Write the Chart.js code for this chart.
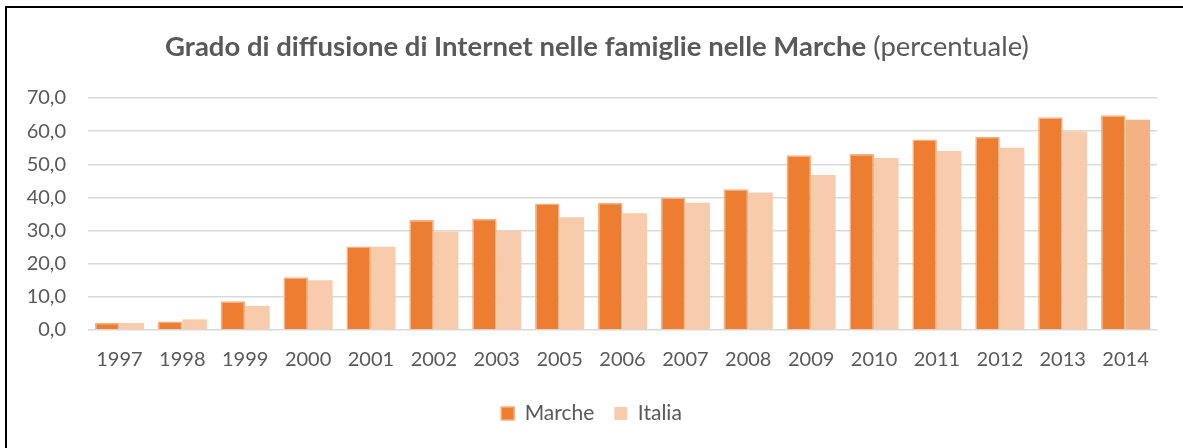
<!DOCTYPE html>
<html>
<head>
<meta charset="utf-8">
<script src="https://cdn.jsdelivr.net/npm/chart.js@4"></script>
<style>
    html, body { margin: 0; padding: 0; background: #fff; }
    #wrap { position: relative; width: 1183px; height: 448px; overflow: hidden; }
    #frame { position: absolute; left: 5px; top: 6px; width: 1200px; height: 460px; border: 2px solid #000; box-sizing: border-box; }
    canvas { position: absolute; left: 0; top: 0; }
</style>
</head>
<body>
<div id="wrap">
    <div id="frame"></div>
    <canvas id="internetChart" width="1183" height="448"></canvas>
</div>
<script>
// Grado di diffusione di Internet nelle famiglie - Marche vs Italia
const years = ['1997', '1998', '1999', '2000', '2001', '2002', '2003', '2005', '2006',
    '2007', '2008', '2009', '2010', '2011', '2012', '2013', '2014'];
const marche = [2.2, 2.6, 8.7, 15.9, 25.2, 33.2, 33.6, 38.2, 38.4, 40.0, 42.5, 52.7, 53.1, 57.5, 58.3, 64.2, 64.8];
const italia = [2.1, 3.2, 7.3, 15.0, 25.1, 29.7, 29.9, 34.0, 35.2, 38.4, 41.5, 46.8, 51.9, 54.0, 55.0, 60.0, 63.4];
const yTicks = [0, 10, 20, 30, 40, 50, 60, 70];

const titleBold = 'Grado di diffusione di Internet nelle famiglie nelle Marche';
const titleNormal = ' (percentuale)';
const fontFamily = 'Lato, "Open Sans", sans-serif';
const textColor = '#595959';

// Title with bold and normal parts
const titlePlugin = {
    id: 'mixedTitle',
    afterDraw(chart) {
        const ctx = chart.ctx;
        ctx.save();
        ctx.textBaseline = 'middle';
        ctx.fillStyle = textColor;
        ctx.font = 'bold 27.5px ' + fontFamily;
        const w1 = ctx.measureText(titleBold).width;
        ctx.font = '27.5px ' + fontFamily;
        const w2 = ctx.measureText(titleNormal).width;
        let x = 597 - (w1 + w2) / 2;
        ctx.font = 'bold 27.5px ' + fontFamily;
        ctx.fillText(titleBold, x, 47);
        ctx.font = '27.5px ' + fontFamily;
        ctx.fillText(titleNormal, x + w1, 47);
        ctx.restore();
    }
};

// Last Italia bar is drawn a bit darker in the original
const italiaColors = italia.map((v, i) => i === italia.length - 1 ? '#f4b183' : '#f8cbad');

new Chart(document.getElementById('internetChart').getContext('2d'), {
    type: 'bar',
    data: {
        labels: years,
        datasets: [{
            label: 'Marche',
            data: marche,
            backgroundColor: '#ed7d31',
            borderColor: '#f4b183',
            borderWidth: 1.5
        }, {
            label: 'Italia',
            data: italia,
            backgroundColor: italiaColors,
            borderColor: italiaColors,
            borderWidth: 0
        }]
    },
    options: {
        responsive: false,
        animation: false,
        datasets: {
            bar: {
                categoryPercentage: 0.78,
                barPercentage: 1.0
            }
        },
        layout: {
            padding: { top: 98, right: 26, bottom: 14, left: 26 }
        },
        plugins: {
            legend: {
                position: 'bottom',
                labels: {
                    boxWidth: 13,
                    boxHeight: 13,
                    padding: 20,
                    color: textColor,
                    font: { family: fontFamily, size: 21 }
                }
            },
            title: { display: false },
            tooltip: { enabled: false }
        },
        scales: {
            y: {
                min: 0,
                max: 70,
                afterFit(scale) { scale.width = 62; },
                afterBuildTicks(scale) { scale.ticks = yTicks.map(v => ({ value: v })); },
                ticks: {
                    color: textColor,
                    font: { family: fontFamily, size: 20 },
                    padding: 22,
                    callback: v => v.toFixed(1).replace('.', ',')
                },
                grid: { color: '#d9d9d9', lineWidth: 1.5, drawTicks: false },
                border: { display: false }
            },
            x: {
                afterFit(scale) { scale.height = 53; },
                ticks: {
                    color: textColor,
                    font: { family: fontFamily, size: 20 },
                    padding: 18,
                    maxRotation: 0
                },
                grid: { display: false, drawTicks: false },
                border: { display: false }
            }
        }
    },
    plugins: [titlePlugin]
});
</script>
</body>
</html>
